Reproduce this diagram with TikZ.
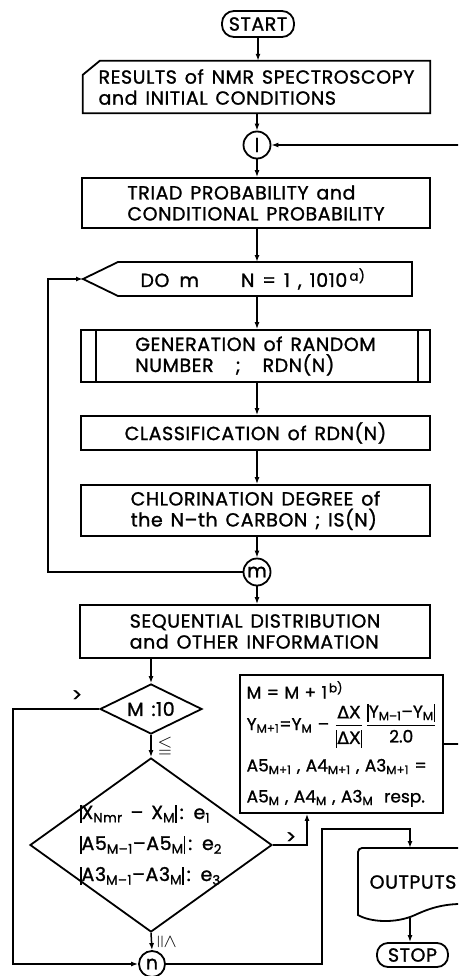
\documentclass[tikz,border=0pt]{standalone}
\usepackage{fontspec}
\usepackage{amsmath,amssymb}
\setmainfont[WordSpace=1.4,FakeBold=1.2,LetterSpace=3]{Poppins}
\newfontfamily\tightf[WordSpace=1.2,FakeBold=1.2]{Poppins}
\newfontfamily\gkf[FakeBold=1.2]{DejaVu Sans}
\usetikzlibrary{arrows.meta,shapes.geometric,calc}
\newcommand\fdia{\fontsize{19}{21}\selectfont}
\newcommand\fsm{\tightf\fontsize{17}{20}\selectfont}
\newcommand\vbr{\rule[-4pt]{1.5pt}{18pt}}
\begin{document}
\begin{tikzpicture}[x=1pt,y=-1pt,
  every node/.style={font=\fdia},
  bx/.style={draw, line width=1.8pt, align=left, inner sep=0pt},
  con/.style={line width=1.5pt},
  arr/.style={con, -{Latex[length=7pt,width=5pt]}},
  circ/.style={circle, draw, line width=1.8pt, minimum size=27pt, inner sep=0pt},
  term/.style={draw, line width=1.8pt, rounded corners=12pt, inner sep=0pt},
  shp/.style={line width=1.8pt}]
\useasboundingbox (0,0) rectangle (458,976);
\fill[white] (0,0) rectangle (458,976);
\clip (0,0) rectangle (458,976);

\node[term, minimum width=72pt, minimum height=26pt] (start) at (258,24) {START};

\node[minimum width=347pt, minimum height=52pt, align=left] (res) at (256.5,87) {RESULTS of NMR SPECTROSCOPY\\and INITIAL CONDITIONS};
\draw[shp] ([xshift=17pt]res.north west) -- (res.north east) -- (res.south east) -- (res.south west) -- ([yshift=-14pt]res.north west) -- cycle;

\node[circ] (l) at (257,145) {l};
\coordinate (lret) at (462,145);

\node[bx, minimum width=348pt, minimum height=50pt] (triad) at (256,203) {TRIAD PROBABILITY and\\CONDITIONAL PROBABILITY};

\node[anchor=west] (do) at (137,279) {DO\hspace{10pt}m\hspace{42pt}N = 1 , 1010\textsuperscript{\,a)}};
\coordinate (dotip) at (83,279);
\coordinate (dotop) at (257,262);
\coordinate (dobot) at (257,296);
\draw[shp] (dotip) -- (118,262) -- (412,262) -- (412,296) -- (118,296) -- cycle;

\node[bx, minimum width=349pt, minimum height=52pt] (gen) at (255.5,356) {GENERATION of RANDOM\\NUMBER\hspace{22pt};\hspace{22pt}RDN(N)};
\draw[shp] ([xshift=16pt]gen.north west) -- ([xshift=16pt]gen.south west)
  ([xshift=-13pt]gen.north east) -- ([xshift=-13pt]gen.south east);

\node[bx, minimum width=349pt, minimum height=34pt] (class) at (255.5,433) {CLASSIFICATION of RDN(N)};

\node[bx, minimum width=349pt, minimum height=51pt] (chlor) at (255.5,510.5) {CHLORINATION DEGREE of\\the N–th CARBON ; IS(N)};

\node[circ] (m) at (257,572) {m};

\node[bx, minimum width=350pt, minimum height=53pt] (seq) at (255,631.5) {SEQUENTIAL DISTRIBUTION\\and OTHER INFORMATION};

\node[diamond, draw, line width=1.8pt, aspect=2.04, minimum width=102pt, minimum height=50pt, inner sep=0pt] (m10) at (151,709) {M :10};

\node[diamond, draw, line width=1.8pt, aspect=1.39, minimum width=242pt, minimum height=174pt, inner sep=0pt] (big) at (151,845) {};
\node[align=left] (bigtxt) at (151,845) {\vbr X\textsubscript{Nmr} – X\textsubscript{M}\vbr\,: e\textsubscript{1}\\[10pt]
\vbr A5\textsubscript{M–1}–A5\textsubscript{M}\vbr\,: e\textsubscript{2}\\[10pt]
\vbr A3\textsubscript{M–1}–A3\textsubscript{M}\vbr\,: e\textsubscript{3}};

\node[circ, minimum size=26pt] (n) at (152,964) {n};

\node[bx, minimum width=203pt, minimum height=138pt, font=\fsm] (mbox) at (341.5,744) {M = M + 1\textsuperscript{\,b)}\\[4pt]
Y\textsubscript{M+1}=Y\textsubscript{M} – $\genfrac{}{}{1.2pt}{0}{\mbox{\gkf ΔX}}{\mbox{\vbr\gkf ΔX\vbr}}\,\genfrac{}{}{1.2pt}{0}{\mbox{\vbr Y\textsubscript{M–1}–Y\textsubscript{M}\vbr}}{\mbox{2.0}}$\\[10pt]
A5\textsubscript{M+1} , A4\textsubscript{M+1} , A3\textsubscript{M+1} =\\[11pt]
A5\textsubscript{M} , A4\textsubscript{M} , A3\textsubscript{M} \ resp.};
\coordinate (mret) at (462,744);

\node (out) at (413,882) {OUTPUTS};
\coordinate (outtop) at (410,848);
\coordinate (outbot) at (410,918);
\draw[shp] (470,848) -- (362,848) to[out=180,in=90] (358,852) -- (358,915)
  .. controls (370,922) and (395,924) .. (415,915)
  .. controls (430,908) and (445,903) .. (470,904);

\node[term, minimum width=71pt, minimum height=24pt, rounded corners=11pt] (stop) at (412.5,955) {STOP};

% labels
\node (gt1) at (77,696) {>};
\node (le1) at (165,747) {$\leqq$};
\node[rotate=-90] (le2) at (166,942) {$\leqq$};
\node (gt2) at (291,838) {>};

% connectors
\draw[arr] (start.south) -- (start.south |- res.north);
\draw[arr] (l |- res.south) -- (l.north);
\draw[arr] (l.south) -- (l |- triad.north);
\draw[arr] (lret) -- (l.east);
\draw[arr] (dotop |- triad.south) -- (dotop);
\draw[arr] (dobot) -- (dobot |- gen.north);
\draw[arr] (m |- gen.south) -- (m |- class.north);
\draw[arr] (m |- class.south) -- (m |- chlor.north);
\draw[arr] (m |- chlor.south) -- (m.north);
\draw[arr] (m.west) -- (48,572) -- (48,279) -- (dotip);
\draw[arr] (m.south) -- (m |- seq.north);
\draw[arr] (m10 |- seq.south) -- (m10.north);
\draw[arr] (m10.south) -- (big.north);
\draw[arr] (m10.west) -- (13,709) -- (13,964) -- (n.west);
\draw[arr] (big.south) -- (n.north);
\draw[arr] (big.east) -| ([xshift=-34.5pt]mbox.south);
\draw[con] (mbox.east) -- (mret);
\draw[arr] (n.east) -- (322,964) -- (322,829) -- (410,829) -- (outtop);
\draw[arr] (outbot) -- (outbot |- stop.north);
\end{tikzpicture}
\end{document}
